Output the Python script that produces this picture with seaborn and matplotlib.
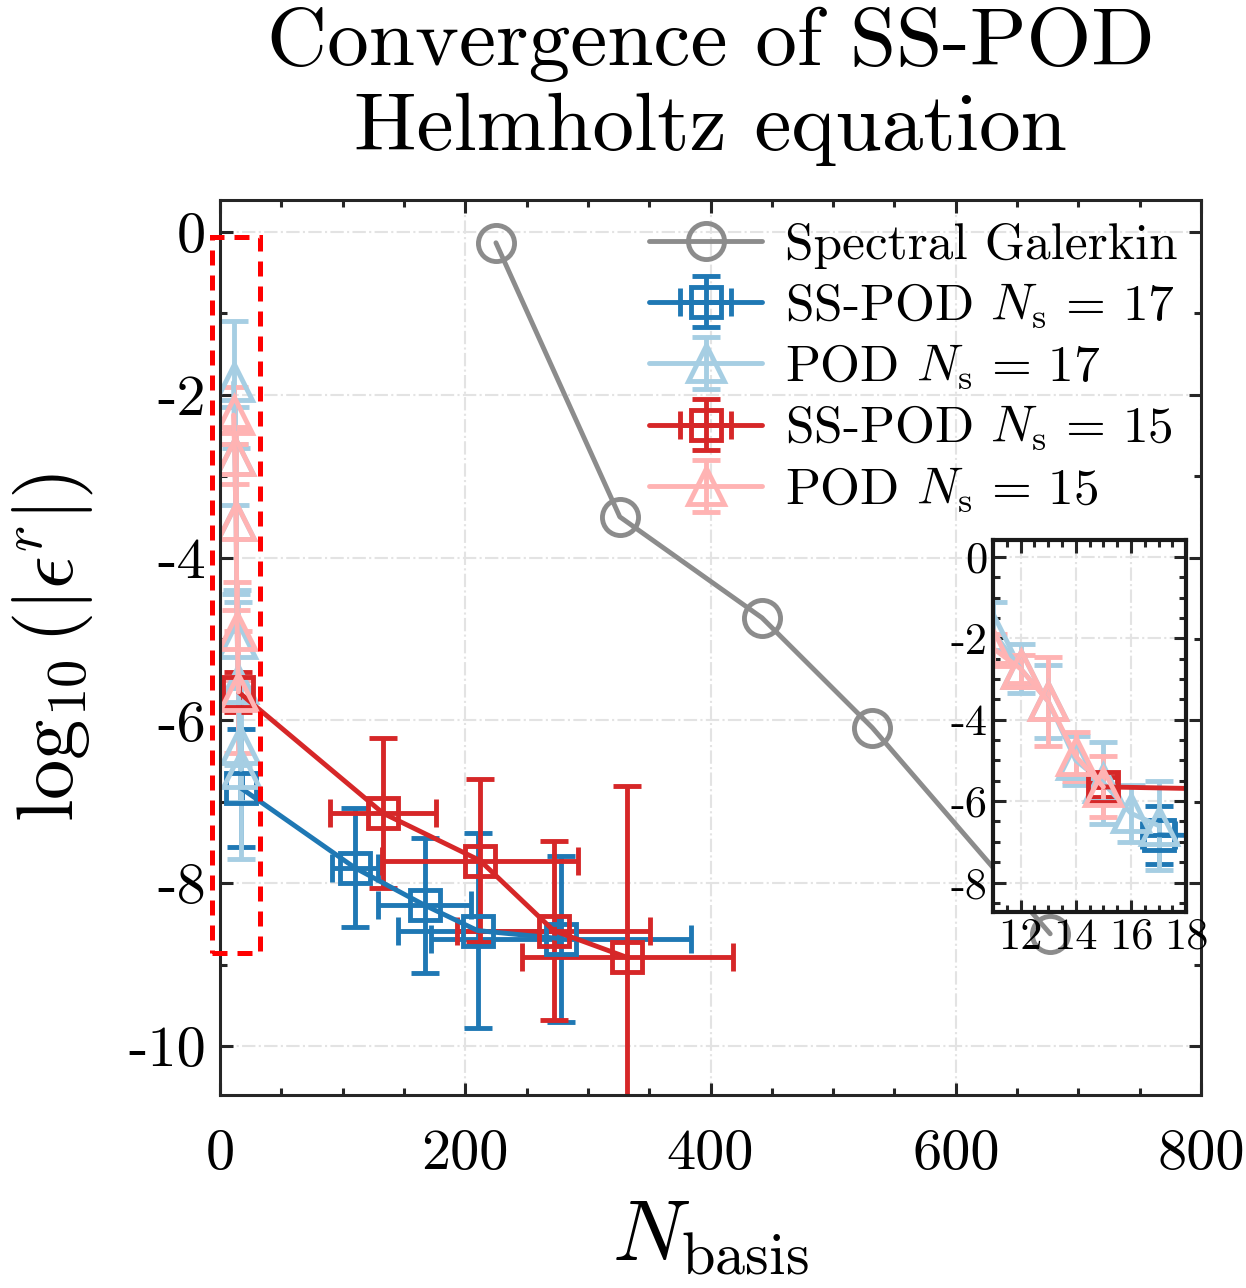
import numpy as np
import pandas as pd
import matplotlib
matplotlib.use("Agg")
import matplotlib.pyplot as plt
import seaborn as sns
from matplotlib.patches import Rectangle
from matplotlib.ticker import MultipleLocator

sns.set_theme(style="ticks")
plt.rcParams["font.family"] = ["cmr10", "DejaVu Serif"]
plt.rcParams["mathtext.fontset"] = "cm"
plt.rcParams["axes.unicode_minus"] = False
plt.rcParams["axes.formatter.use_mathtext"] = False
plt.rcParams["text.color"] = "black"
plt.rcParams["axes.labelcolor"] = "black"
plt.rcParams["xtick.color"] = "black"
plt.rcParams["ytick.color"] = "black"

# Spectral Galerkin reference
sg_n = [225, 326, 442, 532, 677]
sg_err = [-0.135, -3.50, -4.74, -6.09, -8.62]

# SS-POD Ns = 17
ss17_n = [17, 110, 167, 210, 278]
ss17_err = [-6.83, -7.81, -8.27, -8.58, -8.68]
ss17_nerr = [0.6, 19, 38, 65, 106]
ss17_eerr = [0.72, 0.73, 0.83, 1.2, 1.02]

# POD Ns = 17
pod17_n = [11, 12, 13, 14, 15, 16, 17]
pod17_err = [-1.85, -2.75, -3.55, -5.0, -5.55, -6.3, -6.6]
pod17_eerr = [0.75, 0.6, 0.9, 0.6, 1.0, 0.7, 1.1]

# SS-POD Ns = 15
ss15_n = [15, 133, 212, 272, 332]
ss15_err = [-5.65, -7.14, -7.72, -8.58, -8.91]
ss15_nerr = [0.5, 43, 80, 79, 86]
ss15_eerr = [0.25, 0.92, 1.0, 1.1, 2.1]

# POD Ns = 15
pod15_n = [11, 12, 13, 14, 15]
pod15_err = [-2.25, -2.75, -3.55, -4.9, -5.65]
pod15_eerr = [0.35, 0.35, 1.1, 0.6, 0.75]

c_sg = "#8c8c8c"
c_ss17 = "#1f78b4"
c_pod17 = "#a6cee3"
c_ss15 = "#d62728"
c_pod15 = "#ffb3b3"

lw = 3.5


def draw_series(ax):
    sns.lineplot(x=sg_n, y=sg_err, ax=ax, color=c_sg, marker="o", markersize=26,
                 markerfacecolor="none", markeredgecolor=c_sg, markeredgewidth=lw,
                 linewidth=lw, label="Spectral Galerkin")
    kw = dict(lw=lw, elinewidth=lw, capthick=lw, capsize=10, mew=lw)
    ax.errorbar(ss17_n, ss17_err, xerr=ss17_nerr, yerr=ss17_eerr, color=c_ss17,
                marker="s", ms=22, mfc="none", label=r"SS-POD $N_\mathrm{s}\,=\,17$", **kw)
    ax.errorbar(pod17_n, pod17_err, yerr=pod17_eerr, color=c_pod17,
                marker="^", ms=26, mfc="none", label=r"POD $N_\mathrm{s}\,=\,17$", **kw)
    ax.errorbar(ss15_n, ss15_err, xerr=ss15_nerr, yerr=ss15_eerr, color=c_ss15,
                marker="s", ms=22, mfc="none", label=r"SS-POD $N_\mathrm{s}\,=\,15$", **kw)
    ax.errorbar(pod15_n, pod15_err, yerr=pod15_eerr, color=c_pod15,
                marker="^", ms=26, mfc="none", label=r"POD $N_\mathrm{s}\,=\,15$", **kw)


def style_axes(ax, labelsize, pad):
    ax.grid(True, which="major", linestyle="-.", color="#e3e3e3", linewidth=1.5)
    ax.tick_params(which="both", direction="in", top=True, right=True,
                   width=2.2, color="#262626", labelsize=labelsize, pad=pad,
                   labelcolor="black")
    ax.tick_params(which="major", length=9)
    ax.tick_params(which="minor", length=5)
    for s in ax.spines.values():
        s.set_linewidth(2.2)
        s.set_color("#262626")
    ax.set_facecolor("white")


fig = plt.figure(figsize=(12.46, 12.88), dpi=100)
ax = fig.add_axes([0.1766, 0.1498, 0.7873, 0.6949])
draw_series(ax)
ax.set_xlim(0, 800)
ax.set_ylim(-10.6, 0.39)
ax.xaxis.set_major_locator(MultipleLocator(200))
ax.xaxis.set_minor_locator(MultipleLocator(50))
ax.yaxis.set_major_locator(MultipleLocator(2))
ax.yaxis.set_minor_locator(MultipleLocator(1))
style_axes(ax, 42, 10)
ax.tick_params(axis="x", pad=24)
ax.set_xlabel(r"$N_\mathrm{basis}$", fontsize=62, labelpad=14)
ax.set_ylabel(r"$\log_{10}(|\epsilon^r|)$", fontsize=58, labelpad=24)
ax.set_title("Convergence of SS-POD\nHelmholtz equation", fontsize=60,
             linespacing=1.18, pad=36)

leg = ax.legend(loc="upper right", frameon=False, fontsize=37, handlelength=2.2,
                borderaxespad=0.05, labelspacing=0.24, handletextpad=0.45,
                bbox_to_anchor=(1.0, 1.0))

ax.add_patch(Rectangle((-6.5, -8.85), 39, 8.79, fill=False, ec="#ff0000",
                       ls=(0, (3, 2)), lw=3.6, clip_on=False, zorder=10))

ins = fig.add_axes([0.797, 0.292, 0.155, 0.289])
draw_series(ins)
if ins.get_legend():
    ins.get_legend().remove()
ins.set_xlim(11, 18)
ins.set_ylim(-8.72, 0.42)
ins.xaxis.set_major_locator(MultipleLocator(2))
ins.xaxis.set_minor_locator(MultipleLocator(0.5))
ins.yaxis.set_major_locator(MultipleLocator(2))
ins.yaxis.set_minor_locator(MultipleLocator(0.5))
style_axes(ins, 32, 4)
for s in ins.spines.values():
    s.set_linewidth(3)
    s.set_color("#1a1a1a")

fig.savefig("out.png", dpi=100)
